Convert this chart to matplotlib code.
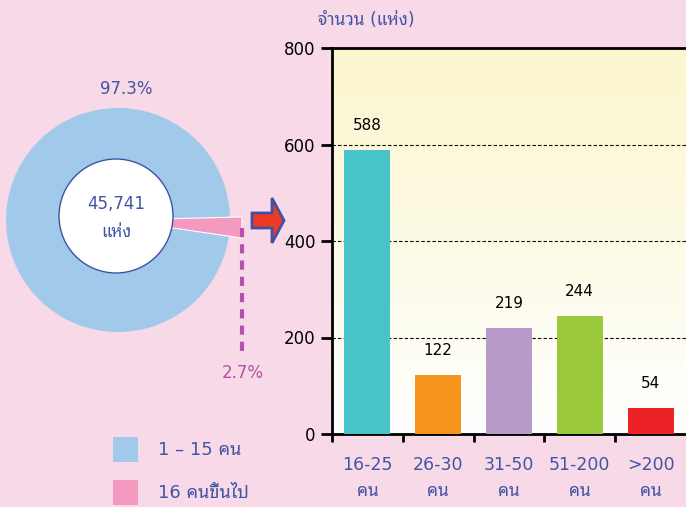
import numpy as np
import matplotlib
matplotlib.use('Agg')
import matplotlib.pyplot as plt
import matplotlib.patches as patches
from matplotlib.colors import LinearSegmentedColormap

plt.rcParams['font.family'] = ['DejaVu Sans', 'Noto Sans Thai Looped']

# data
pie_labels = ['1 – 15 คน', '16 คนขึ้นไป']
pie_shares = [97.3, 2.7]
total_places = '45,741'
bar_cats = ['16-25\nคน', '26-30\nคน', '31-50\nคน', '51-200\nคน', '>200\nคน']
bar_vals = [588, 122, 219, 244, 54]
bar_colors = ['#48C3C7', '#F7961F', '#B89AC9', '#9ACA3C', '#EC2227']
pie_colors = ['#A0C9EA', '#F49AC1']

bg = '#F8D9E8'
txt_blue = '#4255A4'

W, H = 686, 507
fig = plt.figure(figsize=(W / 100, H / 100), dpi=100)
fig.patch.set_facecolor(bg)


def box(x0, y0, x1, y1):
    # pixel box (top-left origin) -> figure fraction
    return [x0 / W, 1 - y1 / H, (x1 - x0) / W, (y1 - y0) / H]


def fxy(x, y):
    return (x / W, 1 - y / H)


# ---- donut on the left ----
pax = fig.add_axes(box(0, 95, 250, 345))
wedges, _ = pax.pie(pie_shares, colors=pie_colors, startangle=-8.3,
                    counterclock=False, radius=112, center=(-7, 0),
                    wedgeprops=dict(linewidth=0))
wedges[1].set_radius(124)
wedges[1].set_edgecolor('white')
wedges[1].set_linewidth(0.8)
pax.set_xlim(-125, 125)
pax.set_ylim(-125, 125)
pax.set_aspect('equal')
pax.axis('off')
pax.add_patch(patches.Circle((-9, 4), 57, facecolor='white', edgecolor='#3F51A3', lw=1, zorder=3))
pax.text(-9, 16, total_places, ha='center', va='center', fontsize=12, color=txt_blue, zorder=4)
pax.text(-9, -12, 'แห่ง', ha='center', va='center', fontsize=12, color=txt_blue, zorder=4)

fig.text(*fxy(126, 89), f'{pie_shares[0]}%', ha='center', va='center', fontsize=12, color=txt_blue)
fig.text(*fxy(243, 373), f'{pie_shares[1]}%', ha='center', va='center', fontsize=12, color='#B5509F')
fig.lines.append(plt.Line2D([242 / W, 242 / W], [1 - 228 / H, 1 - 352 / H], transform=fig.transFigure,
                            color='#B84FA8', lw=3, ls=(0, (2.2, 1.7))))

# block arrow
pts = [(252, 213), (272, 213), (272, 198), (284, 220.5), (272, 243), (272, 228), (252, 228)]
fig.patches.append(patches.Polygon([fxy(x, y) for x, y in pts], closed=True,
                                   facecolor='#EE3A24', edgecolor='#3F51A3', lw=2,
                                   transform=fig.transFigure, figure=fig))

# legend
for i, (lab, col) in enumerate(zip(pie_labels, pie_colors)):
    y = 437 + i * 43
    fig.patches.append(patches.Rectangle(fxy(113, y + 25), 25 / W, 25 / H,
                                         facecolor=col, transform=fig.transFigure, figure=fig))
    fig.text(*fxy(158, y + 13), lab, ha='left', va='center', fontsize=13, color=txt_blue)

# ---- bar chart ----
ax = fig.add_axes(box(332, 48, 692, 434))
x = np.arange(len(bar_vals))
ax.set_xlim(-0.5, 4.585)
ax.set_ylim(0, 800)
grad = np.linspace(0, 1, 256).reshape(-1, 1)
ax.imshow(grad, extent=[-0.5, 4.585, 0, 800], aspect='auto', origin='lower',
          cmap=LinearSegmentedColormap.from_list('g', ['#FFFFFF', '#FBF6CC']), zorder=0)
ax.bar(x, bar_vals, width=0.65, color=bar_colors, zorder=3)
for xi, v in zip(x, bar_vals):
    ax.text(xi, v + 36, str(v), ha='center', va='bottom', fontsize=11, color='black', zorder=4)
for gy in [200, 400, 600]:
    ax.axhline(gy, color='black', lw=0.8, ls=(0, (3, 2)), zorder=2)
for s in ['left', 'bottom', 'top']:
    ax.spines[s].set_linewidth(2)
ax.spines['right'].set_visible(False)
ax.set_yticks([0, 200, 400, 600, 800])
ax.tick_params(axis='y', direction='out', length=8, width=2, labelsize=12, pad=4)
ax.set_xticks(np.arange(-0.5, 4.5, 1))
ax.set_xticklabels([])
ax.tick_params(axis='x', direction='out', length=6, width=2)
for xi, lab in zip(x, bar_cats):
    ax.text(xi, -45, lab, ha='center', va='top', fontsize=12.5, color=txt_blue,
            linespacing=1.6, clip_on=False)
fig.text(*fxy(366, 20), 'จำนวน (แห่ง)', ha='center', va='center', fontsize=12.5, color=txt_blue)

fig.savefig('out.png', facecolor=bg)
